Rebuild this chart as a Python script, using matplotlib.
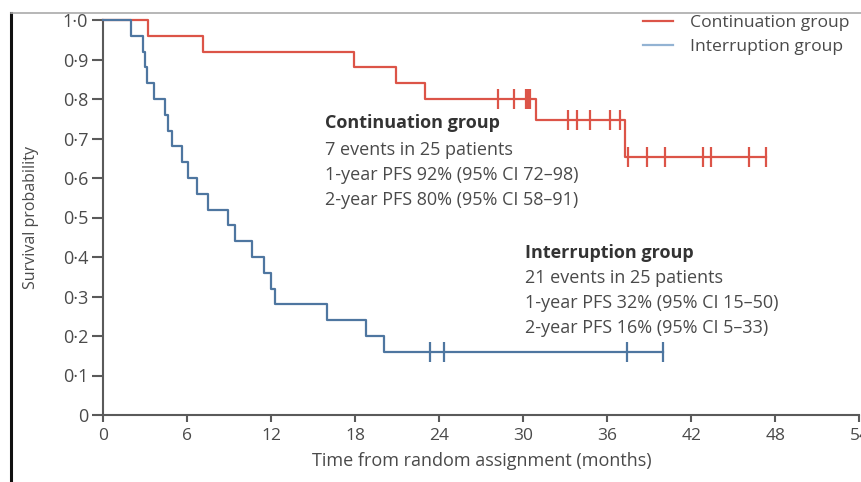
import numpy as np
import matplotlib
matplotlib.use("Agg")
import matplotlib.pyplot as plt
from matplotlib.lines import Line2D

# ---------------- data ----------------
cont_event_times = [3.15, 7.1, 17.9, 20.9, 23.0, 30.9, 37.25]
cont_surv = [0.96, 0.92, 0.88, 0.84, 0.80, 0.747, 0.653]
cont_censor_times = [28.2, 29.3, 30.2, 30.35, 30.5, 33.2, 33.8, 34.75, 36.2, 36.9,
                     37.5, 38.8, 40.1, 42.8, 43.4, 46.1, 47.3]
cont_end = 47.3

intr_event_times = [1.94, 2.85, 3.0, 3.1, 3.6, 4.4, 4.6, 4.9, 5.6, 6.06, 6.65, 7.5,
                    8.9, 9.4, 10.6, 11.5, 12.0, 12.25, 16.0, 18.75, 20.06]
intr_surv = [0.96, 0.92, 0.88, 0.84, 0.80, 0.76, 0.72, 0.68, 0.64, 0.60, 0.56, 0.52,
             0.48, 0.44, 0.40, 0.36, 0.32, 0.28, 0.24, 0.20, 0.16]
intr_censor_times = [23.3, 24.3, 37.4, 40.0]
intr_end = 40.0

series_labels = ["Continuation group", "Interruption group"]
x_ticks = [0, 6, 12, 18, 24, 30, 36, 42, 48, 54]
y_ticks = [0, 0.1, 0.2, 0.3, 0.4, 0.5, 0.6, 0.7, 0.8, 0.9, 1.0]
y_tick_labels = ["0", "0·1", "0·2", "0·3", "0·4", "0·5", "0·6", "0·7", "0·8", "0·9", "1·0"]

cont_text = ["Continuation group", "7 events in 25 patients",
             "1-year PFS 92% (95% CI 72–98)", "2-year PFS 80% (95% CI 58–91)"]
intr_text = ["Interruption group", "21 events in 25 patients",
             "1-year PFS 32% (95% CI 15–50)", "2-year PFS 16% (95% CI 5–33)"]

# ---------------- style ----------------
RED = "#dc5448"
BLUE = "#4e76a0"
BLUE_LEG = "#93b3d3"
TXT = "#4a4a4a"
AX = "#5a5a5a"
plt.rcParams['font.family'] = ['Open Sans', 'DejaVu Sans']

W, H = 862, 482
fig = plt.figure(figsize=(W / 100, H / 100), dpi=100)
x0_px, x1_px = 103.5, 859.5
y0_px, y1_px = 415, 20
ax = fig.add_axes([x0_px / W, (H - y0_px) / H, (x1_px - x0_px) / W, (y0_px - y1_px) / H])


def km_arrays(ev_t, ev_s, end):
    t = np.concatenate([[0.0], ev_t, [end]])
    s = np.concatenate([[1.0], ev_s, [ev_s[-1]]])
    return t, s


def surv_at(ev_t, ev_s, times):
    idx = np.searchsorted(np.asarray(ev_t), np.asarray(times), side='right')
    s = np.concatenate([[1.0], ev_s])
    return s[idx]


for ev_t, ev_s, cens, end, col, lab in [
        (cont_event_times, cont_surv, cont_censor_times, cont_end, RED, series_labels[0]),
        (intr_event_times, intr_surv, intr_censor_times, intr_end, BLUE, series_labels[1])]:
    t, s = km_arrays(ev_t, ev_s, end)
    ax.step(t, s, where='post', color=col, lw=1.6, label=lab, clip_on=False, zorder=3)
    ax.plot(cens, surv_at(ev_t, ev_s, cens), ls='none', marker='|', ms=14, mew=1.6,
            color=col, clip_on=False, zorder=3)

ax.set_xlim(0, 54)
ax.set_ylim(0, 1.0)
ax.set_xticks(x_ticks)
ax.set_xticklabels([str(v) for v in x_ticks])
ax.set_yticks(y_ticks)
ax.set_yticklabels(y_tick_labels)
for side in ['top', 'right']:
    ax.spines[side].set_visible(False)
for side in ['left', 'bottom']:
    ax.spines[side].set_color(AX)
    ax.spines[side].set_linewidth(1.5)
ax.tick_params(axis='both', colors=AX, labelcolor=TXT, width=1.5, direction='out')
ax.tick_params(axis='x', pad=4, length=5, labelsize=12.5)
ax.tick_params(axis='y', pad=3, length=8, labelsize=13)
ax.set_xlabel("Time from random assignment (months)", fontsize=13, color=TXT, labelpad=6)
ax.set_ylabel("Survival probability", fontsize=11.5, color=TXT, labelpad=17)
ax.patch.set_alpha(0)

# annotation blocks
ys_c = [0.739, 0.671, 0.608, 0.544]
ys_i = [0.411, 0.348, 0.284, 0.220]
for i, (tx, yy) in enumerate(zip(cont_text, ys_c)):
    ax.text(15.85, yy, tx, fontsize=13, va='center', ha='left',
            color="#333333" if i == 0 else TXT, fontweight='bold' if i == 0 else 'normal')
for i, (tx, yy) in enumerate(zip(intr_text, ys_i)):
    ax.text(30.1, yy, tx, fontsize=13, va='center', ha='left',
            color="#333333" if i == 0 else TXT, fontweight='bold' if i == 0 else 'normal')

leg = ax.legend(loc='upper left', bbox_to_anchor=((643 - x0_px) / (x1_px - x0_px), 1.014),
                frameon=False, fontsize=12.6, handlelength=1.71, handletextpad=0.97,
                labelspacing=0.46, borderpad=0, borderaxespad=0)
for txt in leg.get_texts():
    txt.set_color(TXT)
leg.legend_handles[1].set_color(BLUE_LEG)

# frame remnants of the cropped page
fig.add_artist(Line2D([11 / W, 11 / W], [0, (H - 13) / H], color="#111111", lw=2.2))
fig.add_artist(Line2D([11 / W, 1], [(H - 13) / H, (H - 13) / H], color="#aaaaaa", lw=1.2))

fig.savefig("out.png", dpi=100)
